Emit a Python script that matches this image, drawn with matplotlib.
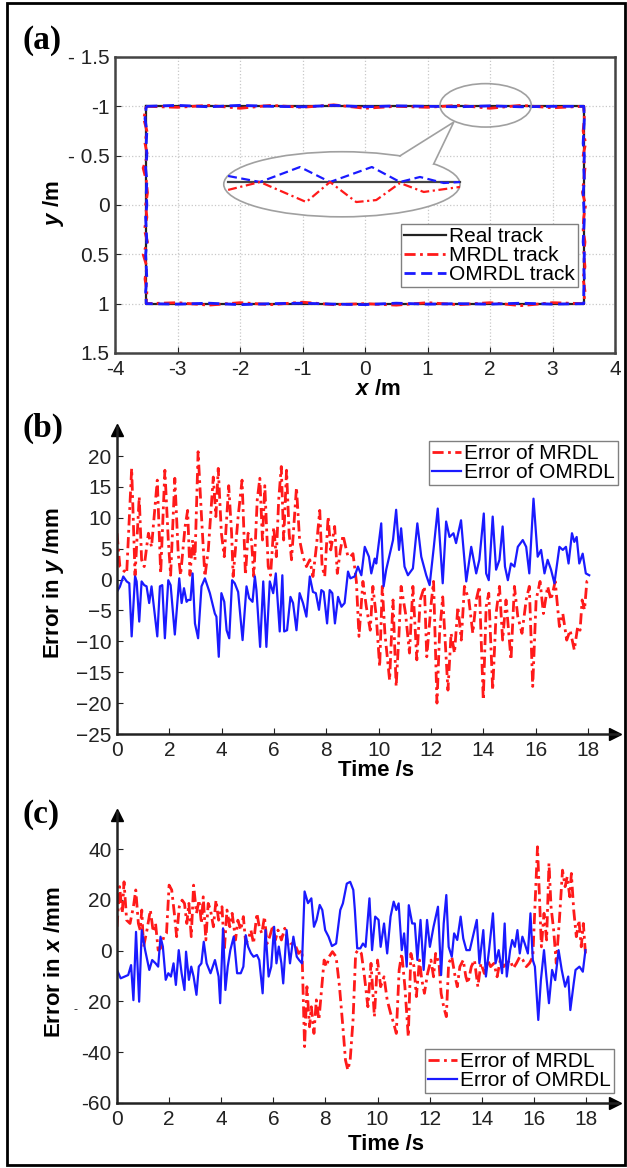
import numpy as np
import matplotlib
matplotlib.use('Agg')
import matplotlib.pyplot as plt
from matplotlib.patches import Ellipse, Polygon, Rectangle

plt.rcParams['font.family'] = ['Liberation Sans', 'DejaVu Sans']
plt.rcParams['mathtext.fontset'] = 'custom'
plt.rcParams['mathtext.it'] = 'Liberation Sans:italic:bold'
plt.rcParams['mathtext.rm'] = 'Liberation Sans:bold'

# ---------------- panel (a): tracks ----------------
real_x = [-3.5, 3.5, 3.5, -3.5, -3.5]
real_y = [-1.0, -1.0, 1.0, 1.0, -1.0]
side_x = [-3.5, -3.0, -2.5, -2.0, -1.5, -1.0, -0.5, 0.0, 0.5, 1.0, 1.5, 2.0, 2.5, 3.0, 3.5]
side_y = [-1.0, -0.875, -0.75, -0.625, -0.5, -0.375, -0.25, -0.125, 0.0,
          0.125, 0.25, 0.375, 0.5, 0.625, 0.75, 0.875, 1.0]
# deviations from the real track along each side
mrdl_top = [0, 0.01, -0.01, 0.02, -0.01, 0.01, -0.015, 0.02, 0.0, 0.01, -0.01, 0.02, -0.01, 0.015, 0]
mrdl_bottom = [0, -0.01, 0.015, -0.01, 0.01, -0.015, 0.01, 0.0, 0.015, -0.01, 0.01, -0.01, 0.02, -0.01, 0]
mrdl_left = [0, -0.04, 0.01, -0.02, 0.02, -0.05, 0.0, 0.02, -0.01, 0.01, -0.03, 0.02, -0.05, 0.01, -0.02, 0.01, 0]
mrdl_right = [0, 0.01, -0.01, 0.03, -0.01, 0.02, 0.0, -0.02, 0.03, 0.0, -0.01, 0.02, 0.0, 0.02, -0.01, 0.02, 0]
omrdl_top = [0, -0.01, 0.005, -0.01, 0.0, 0.005, -0.01, 0.005, -0.005, 0.0, 0.005, -0.005, 0.005, 0.0, 0]
omrdl_bottom = [0, 0.005, -0.005, 0.01, 0.0, -0.005, 0.005, 0.01, -0.005, 0.005, 0.0, 0.005, -0.005, 0.005, 0]
omrdl_left = [0, -0.02, 0.01, 0.0, 0.01, -0.01, 0.01, 0.0, 0.01, -0.01, 0.0, 0.01, -0.01, 0.0, 0.01, -0.01, 0]
omrdl_right = [0, 0.01, 0.0, -0.01, 0.01, 0.0, 0.01, -0.01, 0.0, 0.01, 0.0, -0.01, 0.01, 0.0, 0.01, 0.0, 0]

# zoomed detail inside the callout
zoom_real_x = [-2.19, 1.52]
zoom_real_y = [-0.233, -0.233]
zoom_omrdl_x = [-2.19, -1.68, -1.04, -0.56, 0.11, 0.56, 0.88, 1.26, 1.52]
zoom_omrdl_y = [-0.294, -0.233, -0.385, -0.233, -0.385, -0.233, -0.284, -0.223, -0.233]
zoom_mrdl_x = [-2.19, -1.68, -0.94, -0.56, -0.14, 0.18, 0.56, 0.94, 1.52]
zoom_mrdl_y = [-0.153, -0.233, -0.03, -0.233, -0.03, -0.05, -0.223, -0.132, -0.183]

# ---------------- panel (b): error in y ----------------
mrdl_y_t = [0.00, 0.11, 0.24, 0.37, 0.56, 0.69, 0.85, 0.94, 1.04, 1.20, 1.32, 1.54, 1.67, 1.83, 1.96, 2.05,
            2.21, 2.34, 2.43, 2.60, 2.70, 2.79, 2.89, 2.98, 3.10, 3.23, 3.36, 3.49, 3.68, 3.78, 3.87, 3.99,
            4.10, 4.27, 4.38, 4.44, 4.63, 4.78, 4.91, 5.01, 5.14, 5.23, 5.36, 5.46, 5.56, 5.65, 5.78, 5.87,
            5.99, 6.09, 6.18, 6.28, 6.37, 6.48, 6.58, 6.67, 6.86, 6.98, 7.11, 7.24, 7.37, 7.49, 7.62, 7.75,
            7.84, 7.94, 8.07, 8.17, 8.32, 8.42, 8.54, 8.64, 8.74, 8.83, 8.92, 9.02,
            9.15, 9.25, 9.40, 9.53, 9.68, 9.78, 9.91, 10.04, 10.14, 10.24, 10.42, 10.55, 10.67, 10.78, 10.86,
            11.03, 11.18, 11.31, 11.46, 11.59, 11.75, 11.84, 12.01, 12.10, 12.23, 12.33, 12.45, 12.65, 12.77,
            12.90, 13.03, 13.16, 13.28, 13.45, 13.60, 13.73, 13.85, 14.00, 14.11, 14.21, 14.36, 14.49, 14.62,
            14.74, 14.87, 15.06, 15.19, 15.32, 15.48, 15.64, 15.76, 15.89, 16.02, 16.17, 16.30, 16.46, 16.59,
            16.75, 16.91, 17.04, 17.19, 17.32, 17.48, 17.61, 17.70, 17.78, 17.87, 17.96, 18.05]
mrdl_y_err = [7.5, 2.1, 1.5, 1.0, 18.0, 0.7, 13.4, 3.2, 2.1, 7.5, 5.3, 16.1, 1.0, 17.7, 6.4, 0.7,
              16.4, 4.2, 0.7, 8.5, 11.2, 0.7, 6.4, 3.2, 20.7, 10.2, 0.5, 4.8, 16.6, 10.2, 18.0, 7.5,
              3.7, 15.2, 7.5, 0.5, 10.2, 16.1, 0.7, 7.5, 6.4, 0.5, 12.9, 16.4, 6.4, 15.2, 2.1, 0.7,
              8.5, 3.7, 12.9, 18.3, 6.4, 17.7, 7.5, 3.2, 14.9, 6.4, 3.7, 2.1, 3.2, 0.5, 5.3, 11.2,
              2.1, 0.5, 10.2, 4.8, 8.6, 1.0, 4.8, 7.2, 5.3, 3.7, 3.7, 4.2,
              -0.3, -9.2, -0.3, -4.4, -8.2, -1.1, -6.0, -14.1, -1.1, -8.7, -16.3, -3.3, -17.3, -8.7, -1.1,
              -5.5, -11.9, -1.1, -13.0, -3.3, -1.1, -12.5, -3.8, -0.3, -20.0, -8.7, -2.8, -17.9, -8.7,
              -11.9, -4.4, -9.8, -1.1, -3.3, -8.7, -3.3, -1.1, -19.5, -4.4, -2.2, -17.9, -5.5, -1.1,
              -9.8, -3.3, -13.0, -1.1, -6.0, -8.7, -3.3, -1.1, -17.3, -3.3, -0.3, -5.5, -1.1, -3.3,
              -0.3, -7.6, -5.5, -9.8, -8.2, -11.4, -7.6, -8.2, -3.3, -4.9, -0.3, -0.1]
omrdl_y_t = [0.00, 0.11, 0.24, 0.37, 0.47, 0.56, 0.69, 0.75, 0.85, 0.94, 1.04, 1.13, 1.23, 1.32, 1.41, 1.54,
             1.64, 1.73, 1.83, 1.96, 2.05, 2.21, 2.38, 2.47, 2.56, 2.66, 2.72, 2.81, 2.89, 2.98, 3.10, 3.23,
             3.36, 3.55, 3.74, 3.80, 3.89, 3.99, 4.10, 4.19, 4.29, 4.40, 4.50, 4.63, 4.80, 4.95, 5.05, 5.18,
             5.27, 5.33, 5.47, 5.59, 5.71, 5.84, 5.97, 6.07, 6.22, 6.32, 6.39, 6.50, 6.63, 6.73, 6.86, 6.98,
             7.11, 7.24, 7.37, 7.49, 7.60, 7.72, 7.81, 7.90, 8.03, 8.13, 8.23, 8.33, 8.45, 8.58, 8.70, 8.83,
             8.92, 9.08, 9.21, 9.34, 9.47, 9.63, 9.72, 9.85, 9.91, 10.10, 10.19, 10.29, 10.42, 10.55, 10.67,
             10.78, 10.86, 10.99, 11.12, 11.31, 11.48, 11.63, 11.82, 11.95, 12.11, 12.26, 12.45, 12.58, 12.71,
             12.86, 12.96, 13.15, 13.35, 13.54, 13.73, 13.85, 14.02, 14.11, 14.21, 14.36, 14.49, 14.62, 14.74,
             14.83, 14.94, 15.06, 15.19, 15.32, 15.51, 15.64, 15.76, 15.92, 16.08, 16.21, 16.34, 16.46, 16.59,
             16.72, 16.91, 17.04, 17.16, 17.26, 17.39, 17.48, 17.57, 17.67, 17.80, 17.92, 18.05]
omrdl_y_err = [-1.95, -1.15, 0.5, -0.3, -0.6, -9.2, 0.5, -0.3, -6.8, -0.3, -0.9, -1.1, -3.8, -1.1, -4.4, -9.2,
               -1.1, -0.9, -9.5, -0.1, -0.9, -8.9, 0.2, -3.8, -1.4, -3.6, -3.3, -3.3, 1.0, -7.1, -9.5, -1.1,
               0.2, -2.2, -5.5, -6.0, -12.5, -2.2, -3.6, -8.2, -9.5, -0.1, -0.6, -2.0, -9.8, -1.1, -3.0, -3.6,
               0.5, -1.7, -10.9, -0.3, -10.9, -0.3, -2.2, 1.0, -8.4, 0.7, -8.4, -8.2, -2.8, -3.8, -8.2, -2.2,
               -3.8, -6.0, 0.5, -2.0, -2.2, -4.9, -1.7, -2.0, -7.1, -1.7, -2.2, -7.1, -2.8, -4.4, -3.8, 1.3,
               0.2, 0.5, 2.1, 0.7, 5.3, 3.7, 1.0, 3.4, 2.6, 9.1, -1.1, 1.6, 4.0, 6.4, 11.3,
               4.8, 8.3, 2.1, 0.7, 1.8, 9.1, 3.7, 0.7, -0.9, 5.3, 11.5, -0.6, 9.4, 6.9,
               7.5, 5.9, 9.6, -0.3, 5.3, 1.0, 3.2, 10.7, 1.0, -0.1, 10.2, 1.6, 3.2, 8.6,
               2.1, -0.1, 2.6, 2.1, 5.3, 6.4, 5.3, 1.0, 13.1, 3.7, 4.8, 1.0, 3.2, 1.6,
               -0.6, 5.3, 4.8, 5.3, 2.6, 7.5, 6.1, 6.9, 2.6, 4.2, 1.0, 0.7]

# ---------------- panel (c): error in x ----------------
mrdl_x_t = [0.00, 0.10, 0.20, 0.27, 0.37, 0.50, 0.63, 0.72, 0.82, 0.89, 0.95, 1.02, 1.15, 1.28, 1.39, 1.48,
            1.58, 1.67, 1.80, 1.90, 2.00, 2.10, 2.20, 2.29, 2.39, 2.50, 2.59, 2.68, 2.76, 2.85, 2.94, 3.05,
            3.15, 3.24, 3.31, 3.41, 3.50, 3.59, 3.70, 3.80, 3.90, 4.03, 4.12, 4.22, 4.33, 4.42, 4.55, 4.64,
            4.75, 4.85, 4.94, 5.03, 5.14, 5.24, 5.37, 5.46, 5.56, 5.66, 5.76, 5.86, 5.99, 6.08, 6.18, 6.31,
            6.44, 6.58, 6.71, 6.84, 6.97, 7.10, 7.20, 7.29, 7.39, 7.46, 7.56, 7.65, 7.75, 7.86, 7.95, 8.04,
            8.14, 8.27, 8.41, 8.54, 8.67, 8.77, 8.86, 8.95, 9.06, 9.16, 9.25, 9.38, 9.50, 9.63, 9.75, 9.88,
            10.00, 10.12, 10.25, 10.37, 10.50, 10.62, 10.72, 10.83, 10.93, 11.05, 11.18, 11.28, 11.40, 11.49,
            11.61, 11.70, 11.80, 11.92, 12.05, 12.15, 12.23, 12.36, 12.44, 12.54, 12.64, 12.73, 12.85, 12.98,
            13.06, 13.16, 13.29, 13.39, 13.47, 13.60, 13.72, 13.85, 13.97, 14.10, 14.22, 14.34, 14.47, 14.59,
            14.71, 14.84, 14.96, 15.09, 15.21, 15.33, 15.46, 15.58, 15.71, 15.83, 15.96, 16.04, 16.14, 16.20,
            16.29, 16.39, 16.49, 16.58, 16.66, 16.76, 16.86, 16.98, 17.10, 17.20, 17.28, 17.38, 17.44, 17.53,
            17.63, 17.73, 17.82, 17.90, 17.98]
mrdl_x_err = [9.4, 25.2, 14.7, 27.1, 12.0, 10.7, 17.3, 23.9, 10.7, 8.1, 16.0, 1.5, 8.1, 16.0, 7.4, 10.7,
              0.2, 0.9, 5.5, 6.8, 25.8, 23.9, 14.7, 5.5, 17.3, 19.9, 18.6, 10.7, 18.6, 5.5, 25.8, 14.7,
              19.9, 10.7, 21.2, 4.2, 18.6, 16.0, 9.4, 19.9, 12.0, 17.3, 0.2, 16.0, 9.4, 14.7, 4.2, 12.0,
              8.1, 13.4, 2.8, 4.2, 8.1, 2.8, 14.7, 9.4, 6.8, 13.4, 2.8, 5.5, 10.1, 4.2, 8.1, 4.2,
              8.8, 1.5, 2.8, 2.2, -1.1, 0.2, -37.8, -14.2, -30.0, -22.1, -32.6, -19.4, -27.3, -14.2, -3.7, -6.3,
              -2.4, -0.4, -2.4, -14.2, -30.0, -43.1, -47.0, -43.1, -27.3, -1.1, 0.2, -1.1, -10.3, -22.1, -5.0, -26.0,
              -3.7, -14.2, -10.3, -19.4, -24.6, -28.6, -32.6, -7.6, -1.1, -14.2, -33.9, -1.1, -6.3, -18.1,
              -3.7, -11.5, -16.8, -9.0, -3.7, -10.3, -1.1, -5.0, -16.8, -22.1, -26.0, -5.0, -2.4, -10.3,
              -14.2, -6.3, -3.7, -10.3, -12.9, -6.3, -3.7, -14.2, -5.0, -9.0, -3.7, -6.3, -5.0, -10.3,
              -3.7, -6.3, -5.0, -3.7, -7.0, -5.0, -2.4, -3.7, -6.3, -5.0, -2.4, 17.3, 40.9, 25.2,
              1.5, 14.7, 4.2, 34.4, 17.3, 8.1, -5.0, 12.0, 31.7, 25.2, 29.1, 21.2, 30.4, 16.0,
              5.5, 12.0, 1.5, 10.7, -1.1]
omrdl_x_t = [0.00, 0.14, 0.30, 0.43, 0.54, 0.63, 0.73, 0.85, 0.95, 1.08, 1.24, 1.35, 1.48, 1.58, 1.67, 1.76,
             1.87, 1.97, 2.07, 2.17, 2.26, 2.37, 2.48, 2.59, 2.65, 2.76, 2.85, 2.94, 3.05, 3.14, 3.24, 3.33,
             3.44, 3.59, 3.76, 3.90, 3.96, 4.07, 4.16, 4.25, 4.35, 4.48, 4.61, 4.75, 4.85, 4.94, 5.03, 5.14,
             5.24, 5.37, 5.46, 5.59, 5.70, 5.82, 5.92, 6.03, 6.12, 6.21, 6.31, 6.38, 6.51, 6.64, 6.77, 6.90,
             6.99, 7.10, 7.20, 7.33, 7.46, 7.56, 7.66, 7.78, 7.88, 7.99, 8.12, 8.25, 8.41, 8.57, 8.67, 8.82,
             8.95, 9.07, 9.13, 9.22, 9.34, 9.44, 9.54, 9.69, 9.79, 9.91, 10.04, 10.12, 10.25, 10.37, 10.50,
             10.62, 10.72, 10.81, 10.93, 11.02, 11.12, 11.20, 11.33, 11.43, 11.53, 11.65, 11.77, 11.90, 12.01,
             12.15, 12.32, 12.44, 12.54, 12.64, 12.73, 12.85, 12.94, 13.06, 13.19, 13.29, 13.41, 13.54, 13.66,
             13.81, 13.91, 14.06, 14.16, 14.28, 14.43, 14.53, 14.65, 14.78, 14.88, 14.96, 15.09, 15.17, 15.27,
             15.37, 15.46, 15.56, 15.65, 15.77, 15.87, 15.96, 16.04, 16.17, 16.27, 16.39, 16.48, 16.58, 16.70,
             16.82, 16.95, 17.07, 17.20, 17.32, 17.40, 17.53, 17.60, 17.75, 17.88, 17.98]
omrdl_x_err = [-7.6, -10.9, -10.2, -9.6, -5.7, -19.5, 7.4, -20.1, 8.1, 0.2, -7.6, -3.7, -5.0, -6.3, 5.5, 1.6,
               -11.5, -8.9, -10.2, -5.0, -13.5, 0.2, -8.9, -15.5, -0.4, -11.5, -6.3, -10.2, -17.4, -6.3, -5.0, 3.5,
               -5.0, -8.9, -3.7, -10.2, -20.7, 8.8, -15.5, -6.3, 0.2, 5.5, -8.9, -8.9, -6.3, 6.1, 1.6, -1.0,
               -2.4, -1.7, -3.7, -16.8, 8.1, -10.2, -6.3, 9.4, -5.0, 1.6, -5.0, -12.9, 8.1, -5.0, 5.5, -2.4,
               -3.7, -5.0, 23.3, 18.7, 20.6, 9.4, 12.1, 18.0, 16.0, 8.1, 5.5, 1.8, 2.8, 16.0, 18.6, 26.4,
               27.1, 23.9, 16.0, 0.9, 0.9, 2.8, 1.5, 20.6, 0.2, 13.4, 12.1, 1.5, 10.7, -1.1, 13.4,
               19.3, 16.0, 18.6, 0.2, 6.8, -6.3, 17.9, 10.7, 10.7, -3.7, 12.1, -7.6, 12.1, 1.5,
               9.4, 17.3, -9.6, 10.7, 21.9, 1.5, -2.4, 6.8, 4.2, 13.4, 4.8, 0.2, 0.2, 5.5,
               12.1, -5.0, 8.1, -10.2, 0.2, 14.7, -5.0, 0.2, -8.9, 10.7, -10.2, 0.2, 4.2, 1.5,
               8.1, -1.1, 5.5, 2.8, -1.1, 14.7, -3.7, -6.3, -27.3, -11.6, 0.2, -10.2, -20.7, -7.6,
               -11.6, 0.2, -7.6, -14.2, -10.2, -23.4, -12.9, -7.6, -6.3, -8.3, 0.2]

RED = '#ff1a1a'
BLUE = '#1a1aff'
DASHDOT = (0, (4, 1.6, 1, 1.6))
DASHED = (0, (4, 2))
W, H = 627, 1168


def fx(px):
    return px / W


def fy(py):
    return 1 - py / H


LEG = dict(fontsize=15, handletextpad=0.15, labelspacing=0.0, borderpad=0.15,
           borderaxespad=0, fancybox=False, edgecolor='#808080', framealpha=1)

fig = plt.figure(figsize=(W / 100, H / 100), dpi=100)
fig.patches.append(Rectangle((fx(7), fy(1165)), fx(625) - fx(7), fy(3) - fy(1165),
                             transform=fig.transFigure, fill=False, lw=2, ec='black'))

# ---------- (a) ----------
ax = fig.add_axes([fx(115), fy(353), fx(615) - fx(115), fy(57) - fy(353)])
mrdl_px = (side_x + [3.5 + d for d in mrdl_right] + side_x[::-1] + [-3.5 + d for d in mrdl_left[::-1]])
mrdl_py = ([-1 + d for d in mrdl_top] + side_y + [1 + d for d in mrdl_bottom[::-1]] + side_y[::-1])
omrdl_px = (side_x + [3.5 + d for d in omrdl_right] + side_x[::-1] + [-3.5 + d for d in omrdl_left[::-1]])
omrdl_py = ([-1 + d for d in omrdl_top] + side_y + [1 + d for d in omrdl_bottom[::-1]] + side_y[::-1])
ax.plot(real_x, real_y, color='#222222', lw=1.6, label='Real track', zorder=3)
ax.plot(mrdl_px, mrdl_py, color=RED, lw=2.0, ls=DASHDOT, label='MRDL track', zorder=4)
ax.plot(omrdl_px, omrdl_py, color=BLUE, lw=2.0, ls=DASHED, label='OMRDL track', zorder=5)

ax.add_patch(Ellipse((-0.37, -0.21), 3.78, 0.66, fc='white', ec='#a0a0a0', lw=1.2, zorder=6))
ax.add_patch(Polygon([(0.56, -0.498), (1.42, -0.84), (1.1, -0.417), (0.9, -0.40), (0.7, -0.43)],
                     closed=True, fc='white', ec='none', zorder=6.5))
ax.plot([0.56, 1.42, 1.1], [-0.498, -0.84, -0.417], color='#a0a0a0', lw=1.2, zorder=6.6)
ax.add_patch(Ellipse((1.93, -1.01), 1.46, 0.44, fc='none', ec='#a0a0a0', lw=1.2, zorder=7))
ax.plot(zoom_real_x, zoom_real_y, color='#444444', lw=1.6, zorder=8)
ax.plot(zoom_omrdl_x, zoom_omrdl_y, color=BLUE, lw=1.6, ls=DASHED, zorder=8)
ax.plot(zoom_mrdl_x, zoom_mrdl_y, color=RED, lw=1.6, ls=DASHDOT, zorder=8)

ax.set_xlim(-4, 4)
ax.set_ylim(1.5, -1.5)
ax.set_xticks([-4, -3, -2, -1, 0, 1, 2, 3, 4])
ax.set_xticklabels(['-4', '-3', '-2', '-1', '0', '1', '2', '3', '4'])
ax.set_yticks([-1.5, -1, -0.5, 0, 0.5, 1, 1.5])
ax.set_yticklabels(['- 1.5', '-1', '- 0.5', '0', '0.5', '1', '1.5'])
ax.grid(True, color='#c8c8c8', ls=':', lw=0.9)
ax.tick_params(direction='in', length=4, labelsize=15, colors='#222222')
ax.tick_params(axis='y', pad=4)
ax.tick_params(axis='x', pad=5)
for s in ax.spines.values():
    s.set_linewidth(1.8)
    s.set_color('#444444')
ax.legend(loc='upper right', bbox_to_anchor=(fx(578), fy(224)), bbox_transform=fig.transFigure,
          handlelength=2.0, **LEG)
fig.text(fx(378), fy(389), r'$x$ /m', fontsize=16, fontweight='bold', ha='center', va='center')
fig.text(fx(54), fy(203), r'$y$ /m', fontsize=16, fontweight='bold', ha='center', va='center', rotation=90)
fig.text(fx(22), fy(40), '(a)', fontsize=24, fontweight='bold', family='Liberation Serif', ha='left', va='center')


def arrow_axes(a):
    for s in ['top', 'right']:
        a.spines[s].set_visible(False)
    for s in ['left', 'bottom']:
        a.spines[s].set_linewidth(1.8)
        a.spines[s].set_color('#222222')
    a.plot(0.995, 0, marker='>', ms=9, color='black', transform=a.transAxes, clip_on=False)
    a.plot(0, 0.99, marker='^', ms=9, color='black', transform=a.transAxes, clip_on=False)
    a.set_xticks(range(0, 19, 2))
    a.tick_params(direction='in', length=4, labelsize=15, colors='#222222')
    a.tick_params(axis='y', pad=4)
    a.tick_params(axis='x', pad=5)


# ---------- (b) ----------
axb = fig.add_axes([fx(117), fy(734), fx(618) - fx(117), fy(427) - fy(734)])
axb.plot(mrdl_y_t, mrdl_y_err, color=RED, lw=2.0, ls=DASHDOT, label='Error of MRDL')
axb.plot(omrdl_y_t, omrdl_y_err, color=BLUE, lw=1.6, label='Error of OMRDL')
axb.set_xlim(0, 19.15)
axb.set_ylim(-25, 24.7)
axb.set_yticks(range(-25, 21, 5))
arrow_axes(axb)
axb.legend(loc='upper right', bbox_to_anchor=(fx(618), fy(441)), bbox_transform=fig.transFigure,
           handlelength=1.4, **LEG)
fig.text(fx(376), fy(771), 'Time /s', fontsize=16, fontweight='bold', ha='center', va='center')
fig.text(fx(54), fy(583), r'Error in $y$ /mm', fontsize=16, fontweight='bold', ha='center', va='center',
         rotation=90)
fig.text(fx(22), fy(428), '(b)', fontsize=24, fontweight='bold', family='Liberation Serif', ha='left', va='center')

# ---------- (c) ----------
axc = fig.add_axes([fx(117), fy(1103), fx(618) - fx(117), fy(812) - fy(1103)])
axc.plot(mrdl_x_t, mrdl_x_err, color=RED, lw=2.0, ls=DASHDOT, label='Error of MRDL')
axc.plot(omrdl_x_t, omrdl_x_err, color=BLUE, lw=1.6, label='Error of OMRDL')
axc.set_xlim(0, 19.23)
axc.set_ylim(-60, 54.6)
axc.set_yticks([-60, -40, -20, 0, 20, 40])
axc.set_yticklabels(['-60', '-40', '20', '0', '20', '40'])
arrow_axes(axc)
axc.legend(loc='upper right', bbox_to_anchor=(fx(614), fy(1049)), bbox_transform=fig.transFigure,
           handlelength=1.4, **LEG)
fig.text(fx(75), fy(1010), '-', fontsize=9, ha='center', va='center', color='#222222')
fig.text(fx(386), fy(1144), 'Time /s', fontsize=16, fontweight='bold', ha='center', va='center')
fig.text(fx(55), fy(962), r'Error in $x$ /mm', fontsize=16, fontweight='bold', ha='center', va='center',
         rotation=90)
fig.text(fx(22), fy(814), '(c)', fontsize=24, fontweight='bold', family='Liberation Serif', ha='left', va='center')

fig.savefig('out.png', dpi=100)
